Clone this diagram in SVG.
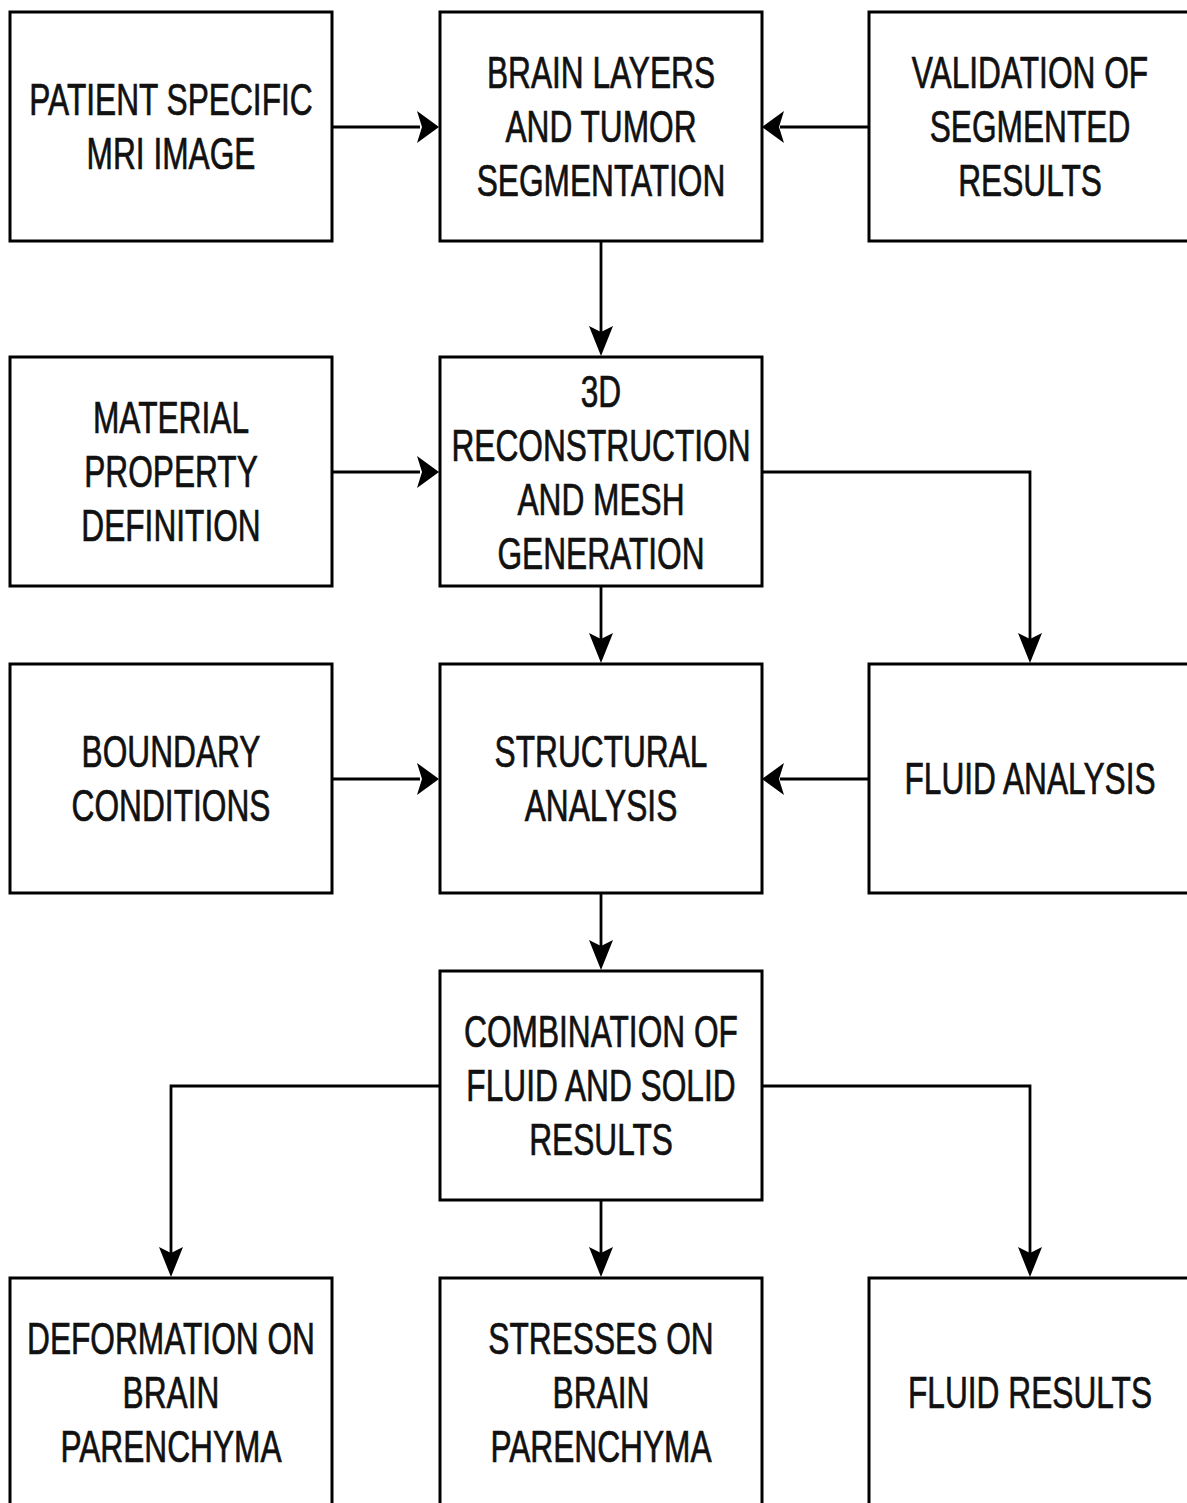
<svg xmlns="http://www.w3.org/2000/svg" width="1187" height="1503" viewBox="0 0 1187 1503">
<style>
.box{fill:#fff;stroke:#000;stroke-width:3}
.lbl{font-family:"Liberation Sans",Arial,sans-serif;font-size:44px;fill:#111;stroke:#111;stroke-width:0.7;text-anchor:middle}
.con{fill:none;stroke:#000;stroke-width:2.8}
.ah{fill:#000;stroke:none}
</style>
<rect width="1187" height="1503" fill="#fff"/>
<g id="connectors">
  <line class="con" x1="332" y1="127" x2="420" y2="127"/>
  <path class="ah" d="M439,127 L417,111 L422,127 L417,143 Z"/>
  <line class="con" x1="869" y1="127" x2="780" y2="127"/>
  <path class="ah" d="M762,127 L784,111 L779,127 L784,143 Z"/>
  <line class="con" x1="601" y1="241" x2="601" y2="334"/>
  <path class="ah" d="M601,356 L589,326 L601,332 L613,326 Z"/>
  <line class="con" x1="332" y1="472" x2="420" y2="472"/>
  <path class="ah" d="M439,472 L417,456 L422,472 L417,488 Z"/>
  <polyline class="con" points="762,472 1030,472 1030,641"/>
  <path class="ah" d="M1030,663 L1018,633 L1030,639 L1042,633 Z"/>
  <line class="con" x1="601" y1="587" x2="601" y2="641"/>
  <path class="ah" d="M601,663 L589,633 L601,639 L613,633 Z"/>
  <line class="con" x1="332" y1="779" x2="420" y2="779"/>
  <path class="ah" d="M439,779 L417,763 L422,779 L417,795 Z"/>
  <line class="con" x1="869" y1="779" x2="780" y2="779"/>
  <path class="ah" d="M762,779 L784,763 L779,779 L784,795 Z"/>
  <line class="con" x1="601" y1="893" x2="601" y2="948"/>
  <path class="ah" d="M601,970 L589,940 L601,946 L613,940 Z"/>
  <polyline class="con" points="440,1086 171,1086 171,1255"/>
  <path class="ah" d="M171,1277 L159,1247 L171,1253 L183,1247 Z"/>
  <line class="con" x1="601" y1="1200" x2="601" y2="1255"/>
  <path class="ah" d="M601,1277 L589,1247 L601,1253 L613,1247 Z"/>
  <polyline class="con" points="762,1086 1030,1086 1030,1255"/>
  <path class="ah" d="M1030,1277 L1018,1247 L1030,1253 L1042,1247 Z"/>
</g>
<g id="n-patient">
  <rect class="box" x="10" y="12" width="322" height="229"/>
  <text class="lbl" transform="translate(171 0) scale(0.72 1)"><tspan x="0" y="115.5">PATIENT SPECIFIC</tspan><tspan x="0" y="169.5">MRI IMAGE</tspan></text>
</g>
<g id="n-brain">
  <rect class="box" x="440" y="12" width="322" height="229"/>
  <text class="lbl" transform="translate(601 0) scale(0.72 1)"><tspan x="0" y="88.5">BRAIN LAYERS</tspan><tspan x="0" y="142.5">AND TUMOR</tspan><tspan x="0" y="196.5">SEGMENTATION</tspan></text>
</g>
<g id="n-validation">
  <rect class="box" x="869" y="12" width="322" height="229"/>
  <text class="lbl" transform="translate(1030 0) scale(0.72 1)"><tspan x="0" y="88.5">VALIDATION OF</tspan><tspan x="0" y="142.5">SEGMENTED</tspan><tspan x="0" y="196.5">RESULTS</tspan></text>
</g>
<g id="n-material">
  <rect class="box" x="10" y="357" width="322" height="229"/>
  <text class="lbl" transform="translate(171 0) scale(0.72 1)"><tspan x="0" y="433.5">MATERIAL</tspan><tspan x="0" y="487.5">PROPERTY</tspan><tspan x="0" y="541.5">DEFINITION</tspan></text>
</g>
<g id="n-3d">
  <rect class="box" x="440" y="357" width="322" height="229"/>
  <text class="lbl" transform="translate(601 0) scale(0.72 1)"><tspan x="0" y="407.5">3D</tspan><tspan x="0" y="461.5">RECONSTRUCTION</tspan><tspan x="0" y="515.5">AND MESH</tspan><tspan x="0" y="569.5">GENERATION</tspan></text>
</g>
<g id="n-boundary">
  <rect class="box" x="10" y="664" width="322" height="229"/>
  <text class="lbl" transform="translate(171 0) scale(0.72 1)"><tspan x="0" y="767.5">BOUNDARY</tspan><tspan x="0" y="821.5">CONDITIONS</tspan></text>
</g>
<g id="n-structural">
  <rect class="box" x="440" y="664" width="322" height="229"/>
  <text class="lbl" transform="translate(601 0) scale(0.72 1)"><tspan x="0" y="767.5">STRUCTURAL</tspan><tspan x="0" y="821.5">ANALYSIS</tspan></text>
</g>
<g id="n-fluid-analysis">
  <rect class="box" x="869" y="664" width="322" height="229"/>
  <text class="lbl" transform="translate(1030 0) scale(0.72 1)"><tspan x="0" y="794.5">FLUID ANALYSIS</tspan></text>
</g>
<g id="n-combination">
  <rect class="box" x="440" y="971" width="322" height="229"/>
  <text class="lbl" transform="translate(601 0) scale(0.72 1)"><tspan x="0" y="1047.5">COMBINATION OF</tspan><tspan x="0" y="1101.5">FLUID AND SOLID</tspan><tspan x="0" y="1155.5">RESULTS</tspan></text>
</g>
<g id="n-deformation">
  <rect class="box" x="10" y="1278" width="322" height="240"/>
  <text class="lbl" transform="translate(171 0) scale(0.72 1)"><tspan x="0" y="1354.5">DEFORMATION ON</tspan><tspan x="0" y="1408.5">BRAIN</tspan><tspan x="0" y="1462.5">PARENCHYMA</tspan></text>
</g>
<g id="n-stresses">
  <rect class="box" x="440" y="1278" width="322" height="240"/>
  <text class="lbl" transform="translate(601 0) scale(0.72 1)"><tspan x="0" y="1354.5">STRESSES ON</tspan><tspan x="0" y="1408.5">BRAIN</tspan><tspan x="0" y="1462.5">PARENCHYMA</tspan></text>
</g>
<g id="n-fluid-results">
  <rect class="box" x="869" y="1278" width="322" height="240"/>
  <text class="lbl" transform="translate(1030 0) scale(0.72 1)"><tspan x="0" y="1408.5">FLUID RESULTS</tspan></text>
</g>
</svg>
